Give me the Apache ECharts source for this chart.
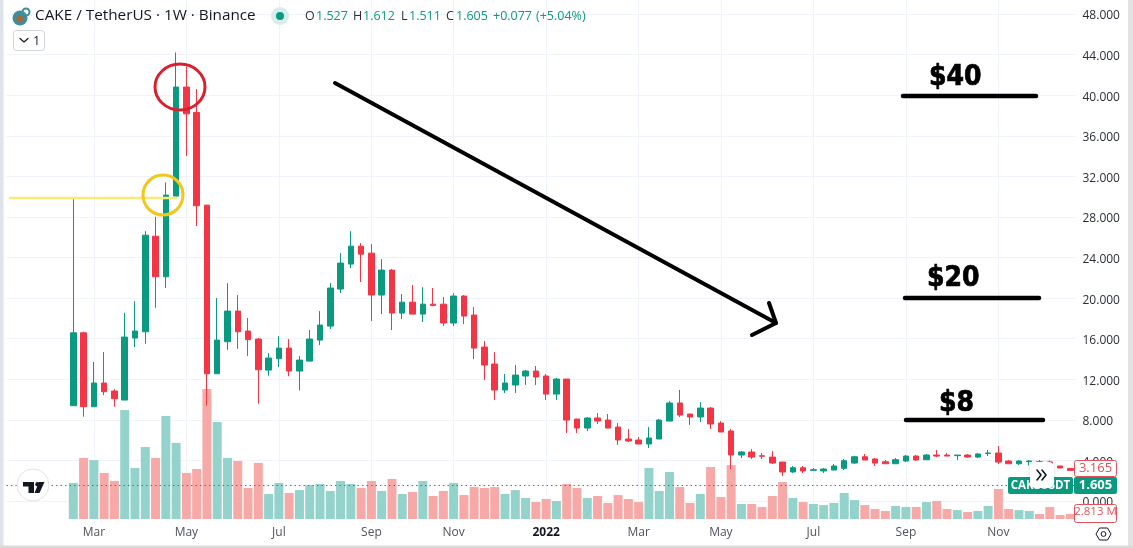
<!DOCTYPE html>
<html>
<head>
<meta charset="utf-8">
<style>
  html, body { margin: 0; padding: 0; background: #fff; }
  #chart { width: 1133px; height: 548px; }
</style>
<script src="https://cdn.jsdelivr.net/npm/echarts@6/dist/echarts.min.js"></script>
</head>
<body>
<div id="chart"></div>
<script>
// weekly candles, first one is Feb 2021
const opens = [
  9.39, 16.58, 9.29, 11.63, 10.84, 9.95, 16.06, 16.68, 26.1, 22.1,
  30.05, 40.8, 38.3, 29.16, 12.54, 15.7, 18.72, 16.75, 15.96, 12.9,
  14.02, 15.07, 12.81, 13.79, 15.86, 17.24, 20.89, 23.35, 25.12, 24.43,
  20.3, 22.76, 18.52, 19.6, 18.42, 19.4, 19.4, 17.54, 20.2, 18.33,
  15.17, 13.5, 10.94, 11.43, 12.32, 12.81, 12.32, 10.54, 12.02, 8.08,
  7.19, 8.18, 7.98, 7.29, 6.11, 6.01, 5.62, 6.11, 7.88, 9.66,
  8.57, 8.28, 9.16, 7.68, 6.9, 4.53, 4.83, 4.46, 4.33, 3.84,
  2.86, 3.28, 3.02, 2.96, 3.05, 3.22, 3.74, 4.36, 4.14, 3.87,
  3.67, 3.94, 4.43, 4.07, 4.53, 4.53, 4.47, 4.53, 4.33, 4.68,
  4.73, 3.94, 3.67, 3.88, 3.87, 3.85, 3.45, 3.21
];
const highs = [
  29.95, 16.68, 13.7, 14.68, 11.03, 18.55, 19.7, 26.6, 28, 31.4,
  44.2, 42.8, 40.6, 29.2, 20, 21.48, 20.3, 18.03, 16.06, 14.58,
  16.26, 15.96, 14.29, 16.85, 18.72, 21.48, 24.43, 26.6, 25.42, 25.32,
  23.84, 22.86, 20.39, 21.28, 21.08, 20.99, 20.1, 20.49, 20.3, 19.11,
  15.76, 14.68, 12.51, 13.4, 12.91, 13.3, 12.51, 12.12, 12.02, 8.08,
  8.28, 8.67, 8.57, 7.68, 7.09, 6.31, 7.29, 8.08, 9.85, 10.94,
  8.57, 9.75, 9.26, 7.88, 7.09, 4.93, 5.12, 4.73, 4.93, 3.84,
  3.45, 3.45, 3.25, 3.25, 3.65, 4.14, 4.46, 4.63, 4.24, 4.04,
  4.24, 4.53, 4.53, 4.63, 5.02, 4.73, 4.53, 4.63, 4.73, 5.02,
  5.42, 4.04, 4.04, 4.04, 4.04, 4.0, 3.45, 3.21
];
const lows = [
  9.39, 8.31, 9.29, 10.44, 9.29, 9.95, 15.17, 15.5, 19.05, 21,
  30.05, 34, 27.1, 9.39, 12.54, 14.9, 15, 14.3, 9.6, 12.35,
  13.2, 12.3, 10.9, 13.79, 15.37, 16.95, 20.49, 22.96, 21.58, 17.73,
  18.42, 16.85, 17.93, 18.42, 17.64, 19.2, 17.24, 17.24, 17.44, 13.99,
  11.92, 9.95, 10.64, 10.64, 11.43, 11.43, 9.95, 9.95, 6.7, 6.7,
  6.9, 7.59, 7.19, 5.52, 5.81, 5.62, 5.22, 6.11, 7.88, 8.28,
  7.49, 7.78, 7.09, 6.8, 3.15, 4.24, 4.14, 4.14, 3.65, 2.46,
  2.76, 2.76, 2.96, 2.76, 3.05, 3.05, 3.65, 4.04, 3.45, 3.65,
  3.65, 3.84, 3.94, 4.04, 4.33, 4.43, 4.04, 4.24, 4.24, 4.43,
  3.65, 3.65, 3.55, 3.5, 3.7, 3.65, 3.25, 3.02
];
const closes = [
  16.58, 9.29, 11.63, 10.77, 10.08, 16.16, 16.75, 26.2, 22.1, 30.15,
  40.8, 38.16, 29.1, 12.54, 15.86, 18.72, 16.68, 15.9, 12.94, 14.09,
  15.07, 12.81, 13.89, 15.96, 17.34, 20.99, 23.45, 25.12, 24.33, 20.3,
  22.76, 18.52, 19.6, 18.42, 19.4, 19.28, 17.54, 20.2, 18.23, 15.07,
  13.4, 10.94, 11.63, 12.41, 12.81, 12.22, 10.54, 12.02, 7.98, 7.19,
  8.18, 7.88, 7.19, 6.01, 5.91, 5.62, 6.21, 7.98, 9.66, 8.47,
  8.28, 9.16, 7.59, 6.8, 4.53, 4.83, 4.33, 4.41, 3.74, 2.86,
  3.28, 2.96, 3.08, 3.15, 3.45, 3.97, 4.36, 4.04, 3.74, 3.67,
  4.07, 4.43, 4.04, 4.53, 4.43, 4.43, 4.53, 4.33, 4.63, 4.73,
  3.84, 3.67, 3.94, 3.94, 3.78, 3.7, 3.25, 3.02
];
// volume in millions
const volumes = [
  20.2, 34.2, 33, 25.8, 21.3, 61, 28.6, 40.3, 34.2, 57.7,
  42.6, 25.8, 28, 72.8, 54.3, 34.2, 32.5, 17.4, 31.4, 14,
  20.2, 14.6, 16.2, 19, 19.6, 15.7, 21.3, 19.6, 17.4, 21.3,
  15.7, 22.4, 14, 15.1, 21.3, 12.9, 15.7, 20.2, 13.4, 17.9,
  17.4, 17.9, 14, 16.2, 11.8, 9.5, 11.2, 10.1, 19.6, 17.4,
  11.8, 12.9, 9, 13.4, 11.2, 9.5, 28.6, 15.7, 26.3, 17.9,
  9, 14, 29.1, 12.3, 30.2, 8.4, 8.4, 6.7, 12.9, 20.7,
  11.8, 9.5, 8.4, 7.8, 9, 14.6, 10.6, 7.8, 5.6, 4.5,
  7.3, 6.7, 6.7, 9.5, 10.1, 5.6, 5, 3.9, 4.5, 7.3,
  16.8, 5.6, 5, 4.5, 2.8, 6.7, 2.2, 2.8
];
const tickIndex = [2, 11, 20, 29, 37, 46, 55, 63, 72, 81, 90];
const tickLabels = ['Mar', 'May', 'Jul', 'Sep', 'Nov', '2022', 'Mar', 'May', 'Jul', 'Sep', 'Nov'];
const lastPrice = 1.605;

const GREEN = '#0b9a80';
const RED = '#f23645';
const GREEN_VOL = '#94d3cb';
const RED_VOL = '#f7a9a8';
const GRID = '#f0f3fa';
const TEXT = '#2a2e39';
const FONT = '"Open Sans", sans-serif';

// empty weeks left of the first candle, the axis starts before the data
const pad = 6;
const slots = pad + opens.length;
const categories = new Array(slots).fill('');
tickIndex.forEach((idx, k) => { categories[idx + pad] = tickLabels[k]; });
const isTick = (i, v) => v !== '';

const emptyCandles = new Array(pad).fill(['-', '-', '-', '-']);
const candleData = emptyCandles.concat(opens.map((o, i) => [o, closes[i], lows[i], highs[i]]));
const volumeData = volumes.map((v, i) => ({
  value: [i + pad, v],
  itemStyle: { color: closes[i] >= opens[i] ? GREEN_VOL : RED_VOL }
}));

// small helpers for the overlay (annotations and the TradingView chrome)
const label = (x, y, text, fill, font, extra) => ({
  type: 'text', z: 100,
  style: Object.assign({ x, y, text, fill, font: font || '12.5px ' + FONT, verticalAlign: 'middle' }, extra)
});
const line = (points, stroke, lineWidth, z) => ({
  type: 'polyline', z: z || 100,
  shape: { points },
  style: { stroke, lineWidth, fill: null, lineCap: 'round', lineJoin: 'round' }
});
const box = (x, y, width, height, fill, stroke, r) => ({
  type: 'rect', z: 100,
  shape: { x, y, width, height, r: r || 0 },
  style: { fill, stroke: stroke || null, lineWidth: 1 }
});
const dot = (cx, cy, r, fill, stroke, lineWidth) => ({
  type: 'circle', z: 100,
  shape: { cx, cy, r },
  style: { fill, stroke: stroke || null, lineWidth: lineWidth || 1 }
});

const bigFont = 'bold 28px "DejaVu Sans Condensed", "Liberation Sans", sans-serif';
const bigText = { stroke: '#000', lineWidth: 0.7 };

const overlay = [
  // page frame
  box(0, 0, 3.5, 548, '#e0e3eb'),
  box(1128, 0, 5, 548, '#e3e3e3'),
  box(0, 545.5, 1133, 2.5, '#dadada'),

  // header
  dot(20, 18, 7.5, '#3e8f9e'),
  dot(20, 19, 3.5, '#a8683c'),
  { type: 'circle', z: 100, shape: { cx: 26, cy: 12, r: 3.5 }, style: { fill: null, stroke: '#3e8f9e', lineWidth: 2 } },
  label(35, 16, 'CAKE / TetherUS · 1W · Binance', '#131722', '15.3px ' + FONT),
  dot(280, 16, 9, '#d8eeea'),
  dot(280, 16, 4, GREEN),
  label(305, 16, 'O', TEXT), label(316, 16, '1.527', GREEN),
  label(353, 16, 'H', TEXT), label(363, 16, '1.612', GREEN),
  label(401, 16, 'L', TEXT), label(409, 16, '1.511', GREEN),
  label(446, 16, 'C', TEXT), label(456, 16, '1.605', GREEN),
  label(493, 16, '+0.077', GREEN), label(536, 16, '(+5.04%)', GREEN),
  box(13.5, 30.5, 31, 20, '#fff', '#d1d4dc', 3),
  line([[20, 38.5], [24, 42], [28, 38.5]], '#131722', 1.2),
  label(33, 41, '1', '#131722'),

  // hand drawn marks
  line([[10, 198], [176, 198]], '#f9ea7a', 2.5, 90),
  { type: 'circle', z: 95, shape: { cx: 163, cy: 195, r: 20 }, style: { fill: null, stroke: '#f5c518', lineWidth: 3 } },
  { type: 'ellipse', z: 95, shape: { cx: 180, cy: 87, rx: 25, ry: 23 }, style: { fill: null, stroke: '#d8202e', lineWidth: 3 } },
  line([[335, 83], [776, 323]], '#000', 4),
  line([[769, 303], [776, 323], [752, 335]], '#000', 4),
  line([[903, 96], [1036, 96]], '#000', 4.5),
  line([[905, 298], [1039, 298]], '#000', 4.5),
  line([[906, 420], [1043, 420]], '#000', 4.5),
  label(929, 78, '$40', '#000', bigFont, bigText),
  label(927, 279, '$20', '#000', bigFont, bigText),
  label(939, 404, '$8', '#000', bigFont, bigText),

  // TradingView logo
  dot(33, 485, 16, '#fff', '#e0e3eb', 1),
  { type: 'polygon', z: 100, shape: { points: [[23, 482], [34, 482], [34, 493], [28.5, 493], [28.5, 486.5], [23, 486.5]] }, style: { fill: '#131722' } },
  dot(37.5, 484.3, 2.2, '#131722'),
  { type: 'polygon', z: 100, shape: { points: [[39, 482], [44.5, 482], [39.5, 493], [34.5, 493]] }, style: { fill: '#131722' } },

  // price scale tags
  box(1074.5, 460.5, 42, 16, '#fff', '#e4525c', 2),
  label(1095.5, 468.5, '3.165', '#e4525c', '13px ' + FONT, { align: 'center' }),
  box(1008, 477, 65, 17, GREEN, null, 2),
  label(1040.5, 485.5, 'CAKEUSDT', '#fff', 'bold 11.5px ' + FONT, { align: 'center' }),
  box(1074, 477, 43, 17, GREEN, null, 2),
  label(1095.5, 485.5, '1.605', '#fff', 'bold 13px ' + FONT, { align: 'center' }),
  box(1074.5, 504.5, 42, 18, '#fff', '#e4525c', 2),
  label(1095.5, 512, '2.813 M', '#e4525c', '11.5px ' + FONT, { align: 'center' }),

  // scroll button, drawn over the ticker tag
  {
    type: 'rect', z: 100, shape: { x: 1030, y: 462, width: 24, height: 26, r: 5 },
    style: { fill: '#fff', shadowBlur: 4, shadowColor: 'rgba(0,0,0,0.15)' }
  },
  line([[1037, 470], [1041, 475], [1037, 480]], '#131722', 1.6),
  line([[1042, 470], [1046, 475], [1042, 480]], '#131722', 1.6),

  // settings
  { type: 'polygon', z: 100, shape: { points: [[1096, 534], [1099.5, 528], [1107.5, 528], [1111, 534], [1107.5, 540], [1099.5, 540]] }, style: { fill: '#fff', stroke: '#131722', lineWidth: 1 } },
  dot(1103.5, 534, 2.4, '#fff', '#131722', 1)
];

const chart = echarts.init(document.getElementById('chart'), null, { renderer: 'canvas' });
chart.setOption({
  animation: false,
  textStyle: { fontFamily: FONT },
  grid: [
    // price pane: 48 at y=14, 0 at y=501
    { left: 6.5, right: 57.5, top: 14, bottom: 47 },
    // volume shares the width, its zero sits at y=519
    { left: 6.5, right: 57.5, top: 0, bottom: 25 }
  ],
  xAxis: [
    {
      type: 'category', gridIndex: 0, data: categories, boundaryGap: true,
      axisLine: { show: false }, axisTick: { show: false }, axisLabel: { show: false },
      splitLine: { show: false }
    },
    {
      type: 'category', gridIndex: 1, data: categories, boundaryGap: true,
      axisLine: { show: false }, axisTick: { show: false },
      axisLabel: {
        interval: isTick, margin: 4, color: '#50535e', fontSize: 12, hideOverlap: false,
        formatter: v => (v === '2022' ? '{b|2022}' : v),
        rich: { b: { fontWeight: 'bold', color: '#131722', fontSize: 12, fontFamily: FONT } }
      },
      splitLine: { show: true, interval: isTick, alignWithLabel: true, lineStyle: { color: GRID, width: 1 } }
    }
  ],
  yAxis: [
    {
      type: 'value', gridIndex: 0, position: 'right', min: 0, max: 48, interval: 4,
      axisLine: { show: false }, axisTick: { show: false },
      axisLabel: {
        color: '#2a2e39', fontSize: 12, margin: 7,
        verticalAlignMinLabel: 'middle', verticalAlignMaxLabel: 'middle',
        // the font sits a bit high in its box, nudge it down to the grid line
        formatter: v => '{p|' + v.toFixed(3) + '}',
        rich: { p: { color: '#2a2e39', fontSize: 12, fontFamily: FONT, padding: [4, 0, 0, 0] } }
      },
      splitLine: { lineStyle: { color: GRID, width: 1 } }
    },
    {
      type: 'value', gridIndex: 1, min: -2.24, max: 290.64,
      axisLine: { show: false }, axisTick: { show: false }, axisLabel: { show: false },
      splitLine: { show: false }
    }
  ],
  series: [
    {
      name: 'Volume', type: 'bar', xAxisIndex: 1, yAxisIndex: 1, barWidth: 9,
      data: volumeData, z: 2, silent: true
    },
    {
      name: 'CAKEUSDT', type: 'candlestick', xAxisIndex: 0, yAxisIndex: 0, barWidth: 6,
      data: candleData, z: 3, silent: true,
      itemStyle: { color: GREEN, color0: RED, borderColor: GREEN, borderColor0: RED, borderWidth: 1 },
      markLine: {
        silent: true, symbol: 'none', label: { show: false },
        lineStyle: { color: GREEN, type: [1.5, 3], width: 1 },
        data: [{ yAxis: lastPrice }]
      }
    }
  ],
  graphic: { elements: overlay }
});
window.addEventListener('resize', () => chart.resize());
</script>
</body>
</html>
